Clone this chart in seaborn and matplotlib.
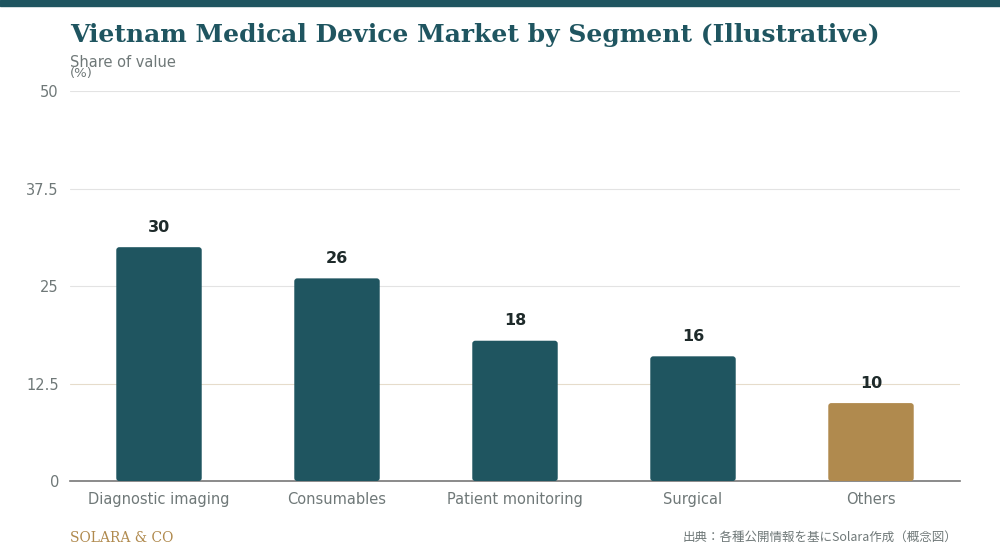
import matplotlib
matplotlib.use("Agg")
import matplotlib.pyplot as plt
import seaborn as sns
import pandas as pd
from matplotlib.patches import FancyBboxPatch, Rectangle

categories = ["Diagnostic imaging", "Consumables", "Patient monitoring", "Surgical", "Others"]
values = [30, 26, 18, 16, 10]
colors = ["#1f5560", "#1f5560", "#1f5560", "#1f5560", "#b08a4e"]
yticks = [0, 12.5, 25, 37.5, 50]
ytick_labels = ["0", "12.5", "25", "37.5", "50"]

sns.set_theme(style="white")
plt.rcParams['font.family'] = ['DejaVu Sans', 'Noto Sans CJK JP']

fig = plt.figure(figsize=(10, 5.6), dpi=100)
ax = fig.add_axes([0.07, 0.141, 0.89, 0.696])
df = pd.DataFrame({"cat": categories, "val": values})
sns.barplot(data=df, x="cat", y="val", hue="cat", palette=colors, legend=False, width=0.48,
            saturation=1, ax=ax, zorder=3)

for p in list(ax.patches):
    x, y, w, h = p.get_x(), p.get_y(), p.get_width(), p.get_height()
    fc = p.get_facecolor()
    p.remove()
    ax.add_patch(FancyBboxPatch((x, y), w, h, boxstyle="round,pad=0,rounding_size=0.017",
                                mutation_aspect=22, fc=fc, ec="none", zorder=3))

for i, v in enumerate(values):
    ax.text(i, v + 1.6, str(v), ha="center", va="bottom", fontsize=11.5, fontweight="bold", color="#1e2a2a")

ax.set_ylim(0, 50)
ax.set_xlim(-0.5, 4.5)
ax.set_yticks(yticks)
ax.set_yticklabels(ytick_labels)
for t in yticks[1:]:
    ax.axhline(t, color="#e6dccb" if t == 12.5 else "#e3e3e3", lw=0.8, zorder=1)
ax.tick_params(axis="both", colors="#6f7878", labelsize=10.5, length=0, pad=8)
ax.set_xlabel("")
ax.set_ylabel("")
for s in ["top", "right", "left"]:
    ax.spines[s].set_visible(False)
ax.spines["bottom"].set_color("#777777")
ax.spines["bottom"].set_linewidth(1.2)

fig.add_artist(Rectangle((0, 1 - 6/560), 1, 6/560, transform=fig.transFigure, color="#1f5560"))
fig.text(0.07, 0.937, "Vietnam Medical Device Market by Segment (Illustrative)", fontsize=18,
         fontweight="bold", family="DejaVu Serif", color="#1f5560", va="center")
fig.text(0.07, 0.889, "Share of value", fontsize=10.5, color="#6f7878", va="center")
fig.text(0.07, 0.868, "(%)", fontsize=9.5, color="#6f7878", va="center")
fig.text(0.07, 0.04, "SOLARA & CO", fontsize=10, family="DejaVu Serif", color="#b08a4e", va="center")
fig.text(0.957, 0.04, "出典：各種公開情報を基にSolara作成（概念図）", fontsize=9, color="#6f7878",
         va="center", ha="right", family=["Noto Sans CJK JP", "DejaVu Sans"])
fig.savefig("out.png", dpi=100)
